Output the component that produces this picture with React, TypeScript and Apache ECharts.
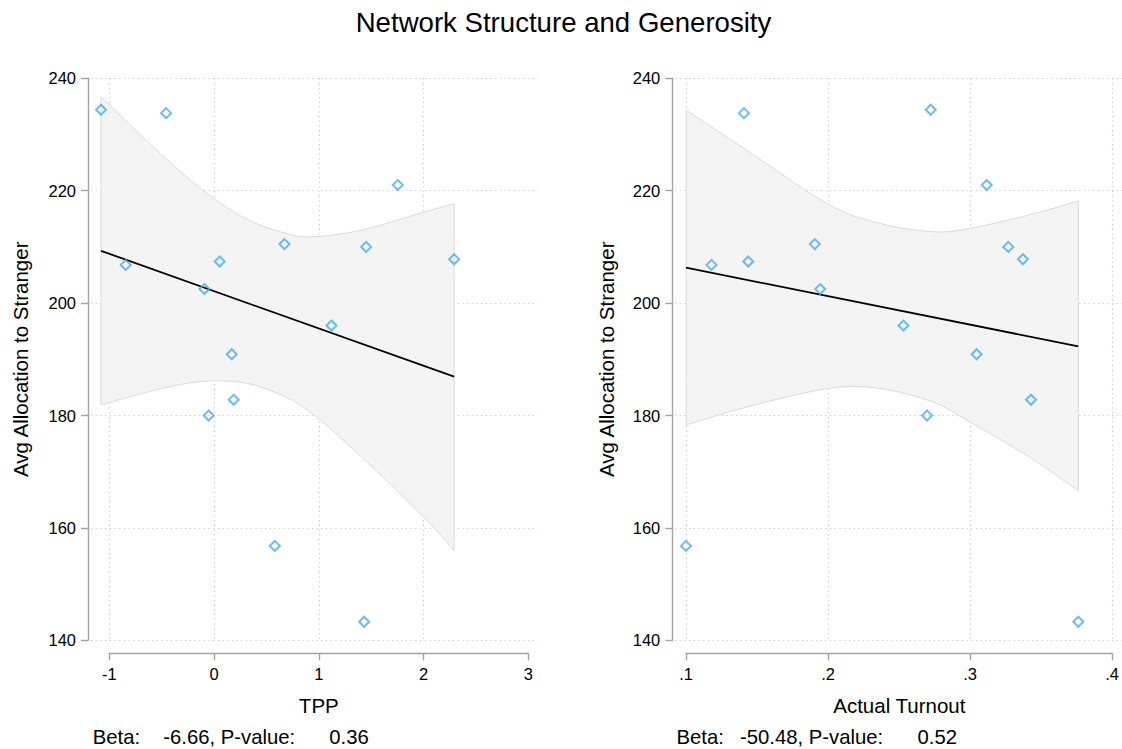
import React, { useEffect, useRef } from 'react';
import * as echarts from 'echarts';

// ---- data ----
const allocation = [234.4, 233.8, 221.0, 206.8, 207.4, 210.5, 210.0, 207.8, 202.5, 196.0, 190.9, 182.8, 180.0, 156.8, 143.3];
const tpp = [-1.079, -0.458, 1.754, -0.843, 0.054, 0.672, 1.452, 2.292, -0.092, 1.121, 0.169, 0.188, -0.051, 0.58, 1.433];
const turnout = [0.2723, 0.1408, 0.3117, 0.118, 0.1438, 0.1907, 0.3269, 0.3372, 0.1945, 0.2531, 0.3046, 0.3429, 0.2697, 0.1, 0.3762];

const fitTppX = [-1.079, 2.292];
const fitTppY = [209.3, 186.9];
const fitTurnoutX = [0.1, 0.3762];
const fitTurnoutY = [206.3, 192.3];

const ciTppX = [-1.079, -0.5, -0.086, 0.296, 0.647, 0.933, 1.41, 2.006, 2.292];
const ciTppUpper = [236.7, 226.4, 219.8, 215.1, 212.6, 211.8, 213.0, 216.2, 217.7];
const ciTppLower = [181.9, 184.8, 186.1, 185.8, 183.6, 180.4, 172.6, 161.8, 156.0];

const ciTurnoutX = [0.1, 0.1427, 0.2, 0.2364, 0.2739, 0.3, 0.3419, 0.3762];
const ciTurnoutUpper = [234.35, 227.2, 217.6, 214.2, 212.7, 213.3, 215.7, 218.2];
const ciTurnoutLower = [178.3, 181.5, 184.8, 184.8, 182.4, 178.8, 172.6, 166.6];

const yTickValues = [140, 160, 180, 200, 220, 240];
const tppTickLabels = ['-1', '0', '1', '2', '3'];
const turnoutTickLabels = ['.1', '.2', '.3', '.4'];

const titleText = 'Network Structure and Generosity';
const yTitle = 'Avg Allocation to Stranger';
const tppTitle = 'TPP';
const turnoutTitle = 'Actual Turnout';
const tppNote = ['Beta:', '-6.66, P-value:', '0.36'];
const turnoutNote = ['Beta:', '-50.48, P-value:', '0.52'];

// ---- styles ----
const FONT = '"Liberation Sans", Arial, Helvetica, sans-serif';
const AXIS = '#a3a3a3';
const GRID = '#c6c6c6';
const BAND_FILL = '#f4f4f4';
const BAND_EDGE = '#dadada';
const POINT = '#45ade8';

type PanelCfg = {
  idx: number;
  leftA: number;
  widthA: number;
  leftB: number;
  widthB: number;
  yOffset: number;
  xMin: number;
  xMax: number;
  xInterval: number;
  xLabels: string[];
  showMaxLine: boolean;
  xs: number[];
  fitX: number[];
  fitY: number[];
  ciX: number[];
  ciU: number[];
  ciL: number[];
};

const TOP = 78.3;
const HEIGHT = 562;

// Catmull-Rom -> cubic bezier, in pixel space
function curvePath(p: number[][]) {
  let s = '';
  for (let i = 0; i < p.length - 1; i++) {
    const p0 = p[Math.max(i - 1, 0)];
    const p1 = p[i];
    const p2 = p[i + 1];
    const p3 = p[Math.min(i + 2, p.length - 1)];
    const t = 1 / 6;
    const c1x = p1[0] + (p2[0] - p0[0]) * t;
    const c1y = p1[1] + (p2[1] - p0[1]) * t;
    const c2x = p2[0] - (p3[0] - p1[0]) * t;
    const c2y = p2[1] - (p3[1] - p1[1]) * t;
    s += ` C${c1x} ${c1y} ${c2x} ${c2y} ${p2[0]} ${p2[1]}`;
  }
  return s;
}

function buildPanel(c: PanelCfg) {
  const gA = c.idx * 2;
  const gB = c.idx * 2 + 1;
  const grids = [
    { left: c.leftA, top: TOP, width: c.widthA, height: HEIGHT, containLabel: false },
    { left: c.leftB, top: TOP, width: c.widthB, height: HEIGHT, containLabel: false },
  ];
  const yMin = yTickValues[0];
  const yMax = yTickValues[yTickValues.length - 1];
  const yInt = yTickValues[1] - yTickValues[0];
  const xAxes = [
    {
      gridIndex: gA,
      type: 'value',
      min: c.xMin,
      max: c.xMax,
      interval: c.xInterval,
      position: 'bottom',
      offset: 13,
      axisLine: { show: true, onZero: false, lineStyle: { color: AXIS, width: 1.4 } },
      axisTick: { show: true, inside: false, length: 7, lineStyle: { color: AXIS, width: 1.4 } },
      axisLabel: {
        margin: 12,
        color: '#000',
        fontSize: 16.5,
        fontFamily: FONT,
        formatter: (v: number) => c.xLabels[Math.round((v - c.xMin) / c.xInterval)] ?? '',
      },
      splitLine: {
        show: true,
        showMinLine: true,
        showMaxLine: c.showMaxLine,
        lineStyle: { color: GRID, width: 1.2, type: [1.2, 3.5] },
      },
    },
    { gridIndex: gB, type: 'value', show: false, min: 0, max: 1 },
  ];
  const yAxes = [
    {
      gridIndex: gA,
      type: 'value',
      min: yMin,
      max: yMax,
      interval: yInt,
      position: 'left',
      offset: c.yOffset,
      axisLine: { show: true, onZero: false, lineStyle: { color: AXIS, width: 1.4 } },
      axisTick: { show: true, inside: false, length: 7, lineStyle: { color: AXIS, width: 1.4 } },
      axisLabel: { margin: 12, color: '#000', fontSize: 16.5, fontFamily: FONT },
      splitLine: { show: false },
    },
    {
      gridIndex: gB,
      type: 'value',
      min: yMin,
      max: yMax,
      interval: yInt,
      axisLine: { show: false },
      axisTick: { show: false },
      axisLabel: { show: false },
      splitLine: { show: true, lineStyle: { color: GRID, width: 1.2, type: [1.2, 3.5] } },
    },
  ];
  const common = { xAxisIndex: gA, yAxisIndex: gA, silent: true, clip: false };
  const series = [
    {
      ...common,
      type: 'custom',
      name: 'ci' + c.idx,
      data: c.ciX.map((x, k) => [x, c.ciU[k], c.ciL[k]]),
      encode: { x: 0, y: [1, 2] },
      z: 2,
      renderItem: (params: any, api: any) => {
        if (params.dataIndex !== 0) return null;
        const up = c.ciX.map((x, k) => api.coord([x, c.ciU[k]]));
        const lo = c.ciX.map((x, k) => api.coord([x, c.ciL[k]])).reverse();
        const d =
          `M${up[0][0]} ${up[0][1]}` +
          curvePath(up) +
          ` L${lo[0][0]} ${lo[0][1]}` +
          curvePath(lo) +
          ' Z';
        return {
          type: 'path',
          shape: { pathData: d },
          style: { fill: BAND_FILL, stroke: BAND_EDGE, lineWidth: 1 },
          silent: true,
        };
      },
    },
    {
      ...common,
      type: 'custom',
      name: 'fit' + c.idx,
      data: c.fitX.map((x, k) => [x, c.fitY[k]]),
      encode: { x: 0, y: 1 },
      z: 4,
      renderItem: (params: any, api: any) => {
        if (params.dataIndex !== 0) return null;
        const a = api.coord([c.fitX[0], c.fitY[0]]);
        const b = api.coord([c.fitX[1], c.fitY[1]]);
        return {
          type: 'line',
          shape: { x1: a[0], y1: a[1], x2: b[0], y2: b[1] },
          style: { stroke: '#000', lineWidth: 1.8 },
          silent: true,
        };
      },
    },
    {
      ...common,
      type: 'scatter',
      data: c.xs.map((x, k) => [x, allocation[k]]),
      symbol: 'diamond',
      symbolSize: 10,
      itemStyle: { color: 'rgba(0,0,0,0)', borderColor: POINT, borderWidth: 2 },
      z: 5,
    },
  ];
  return { grids, xAxes, yAxes, series };
}

function txt(text: string, x: number, y: number, size: number, align: string, rotation = 0) {
  return {
    type: 'text',
    x,
    y,
    rotation,
    silent: true,
    style: {
      text,
      fontSize: size,
      fontFamily: FONT,
      fill: '#000',
      align,
      verticalAlign: 'middle',
    },
  };
}

export default function App() {
  const ref = useRef<HTMLDivElement>(null);
  useEffect(() => {
    if (!ref.current) return;
    const chart = echarts.init(ref.current, undefined, { renderer: 'svg' });
    const left = buildPanel({
      idx: 0,
      leftA: 109.3,
      widthA: 419,
      leftB: 91,
      widthB: 447,
      yOffset: 21.3,
      xMin: -1,
      xMax: 3,
      xInterval: 1,
      xLabels: tppTickLabels,
      showMaxLine: false,
      xs: tpp,
      fitX: fitTppX,
      fitY: fitTppY,
      ciX: ciTppX,
      ciU: ciTppUpper,
      ciL: ciTppLower,
    });
    const right = buildPanel({
      idx: 1,
      leftA: 686,
      widthA: 426.7,
      leftB: 675,
      widthB: 447,
      yOffset: 13.7,
      xMin: 0.1,
      xMax: 0.4,
      xInterval: 0.1,
      xLabels: turnoutTickLabels,
      showMaxLine: true,
      xs: turnout,
      fitX: fitTurnoutX,
      fitY: fitTurnoutY,
      ciX: ciTurnoutX,
      ciU: ciTurnoutUpper,
      ciL: ciTurnoutLower,
    });
    const option: any = {
      animation: false,
      backgroundColor: '#fff',
      grid: [...left.grids, ...right.grids],
      xAxis: [...left.xAxes, ...right.xAxes],
      yAxis: [...left.yAxes, ...right.yAxes],
      series: [...left.series, ...right.series],
      graphic: [
        txt(titleText, 563.5, 22, 27.6, 'center'),
        txt(yTitle, 20.5, 359.3, 20.5, 'center', Math.PI / 2),
        txt(yTitle, 606.5, 359.3, 20.5, 'center', Math.PI / 2),
        txt(tppTitle, 318.8, 705, 20.5, 'center'),
        txt(turnoutTitle, 899.3, 705, 20.5, 'center'),
        txt(tppNote[0], 92.7, 737, 20.3, 'left'),
        txt(tppNote[1], 163.3, 737, 20.3, 'left'),
        txt(tppNote[2], 329.3, 737, 20.3, 'left'),
        txt(turnoutNote[0], 676.5, 737, 20.3, 'left'),
        txt(turnoutNote[1], 740, 737, 20.3, 'left'),
        txt(turnoutNote[2], 917.5, 737, 20.3, 'left'),
      ],
    };
    chart.setOption(option);
    return () => chart.dispose();
  }, []);
  return (
    <div
      ref={ref}
      style={{ position: 'fixed', left: 0, top: 0, width: 1122, height: 749, background: '#fff' }}
    />
  );
}
